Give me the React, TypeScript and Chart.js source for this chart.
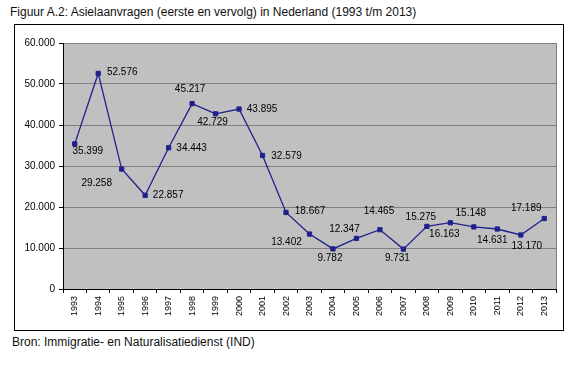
import React, { useEffect, useRef } from "react";
import { Chart, registerables } from "chart.js";

Chart.register(...registerables);

const years = ["1993","1994","1995","1996","1997","1998","1999","2000","2001","2002","2003","2004","2005","2006","2007","2008","2009","2010","2011","2012","2013"];
const requests = [35399,52576,29258,22857,34443,45217,42729,43895,32579,18667,13402,9782,12347,14465,9731,15275,16163,15148,14631,13170,17189];
const yTicks = [0,10000,20000,30000,40000,50000,60000];
// label offsets (dx, dy) in px relative to each point
const labelDx = [13,24,-25,23,23,-2,-3,23,24,24,-23,-3,-12,-1,-6,-6,-6,-3,-5,6,-18];
const labelDy = [7,-1,14,0,0,-14,8,0,1,-1,8,9,-9,-18,9,-9,12,-14,11,11,-10];

const fmt = (v: number) => {
  const s = String(v);
  if (v < 1000) return s;
  return s.slice(0, s.length - 3) + "." + s.slice(s.length - 3);
};

const FONT = "'Liberation Sans', Arial, Helvetica, sans-serif";

export default function App() {
  const ref = useRef<HTMLCanvasElement | null>(null);
  useEffect(() => {
    document.body.style.margin = "0";
    const bgPlugin = {
      id: "plotBg",
      beforeDraw(chart: any) {
        const { ctx, chartArea: a } = chart;
        ctx.save();
        ctx.fillStyle = "#c0c0c0";
        ctx.fillRect(a.left, a.top, a.right - a.left, a.bottom - a.top);
        ctx.restore();
      },
      afterDatasetsDraw(chart: any) {
        const { ctx, chartArea: a } = chart;
        ctx.save();
        ctx.strokeStyle = "#808080";
        ctx.lineWidth = 1;
        ctx.beginPath();
        ctx.moveTo(a.right + 0.5, a.top);
        ctx.lineTo(a.right + 0.5, a.bottom);
        ctx.stroke();
        ctx.restore();
        const meta = chart.getDatasetMeta(0);
        ctx.save();
        ctx.font = "10px " + FONT;
        ctx.fillStyle = "#000";
        ctx.textAlign = "center";
        ctx.textBaseline = "middle";
        meta.data.forEach((pt: any, i: number) => {
          ctx.fillText(fmt(requests[i]), pt.x + labelDx[i], pt.y + labelDy[i]);
        });
        ctx.restore();
      },
    };
    const chart = new Chart(ref.current!, {
      type: "line",
      data: {
        labels: years,
        datasets: [
          {
            data: requests,
            borderColor: "#20208c",
            backgroundColor: "#20208c",
            borderWidth: 1.3,
            pointStyle: "rect",
            pointRadius: 3,
            pointBorderWidth: 1,
            tension: 0,
          },
        ],
      },
      options: {
        animation: false,
        responsive: false,
        maintainAspectRatio: false,
        layout: { padding: { left: 0, top: 18, right: 7, bottom: 0 } },
        plugins: { legend: { display: false }, tooltip: { enabled: false }, title: { display: false } },
        scales: {
          x: {
            offset: true,
            grid: { offset: true, drawOnChartArea: false, drawTicks: true, tickLength: 4, color: "#000" },
            border: { color: "#000", width: 1 },
            ticks: { color: "#000", font: { size: 9, family: FONT }, minRotation: 90, maxRotation: 90, padding: 3, autoSkip: false },
            afterFit(s: any) { s.height = 41; },
          },
          y: {
            min: 0,
            max: 60000,
            afterBuildTicks(s: any) { s.ticks = yTicks.map((v) => ({ value: v })); },
            grid: { color: "#808080", tickLength: 4, drawTicks: true, tickColor: "#000" },
            border: { color: "#000", width: 1 },
            ticks: { color: "#000", font: { size: 10, family: FONT }, padding: 4, callback: (v: any) => fmt(Number(v)) },
            afterFit(s: any) { s.width = 48; },
          },
        },
      },
      plugins: [bgPlugin],
    });
    return () => chart.destroy();
  }, []);
  return (
    <div style={{ position: "relative", width: 581, height: 368, background: "#fff", fontFamily: FONT }}>
      <div style={{ position: "absolute", left: 10, top: 5, fontSize: 12, color: "#111", whiteSpace: "nowrap" }}>
        Figuur A.2: Asielaanvragen (eerste en vervolg) in Nederland (1993 t/m 2013)
      </div>
      <div style={{ position: "absolute", left: 14, top: 24, width: 548, height: 305, border: "1px solid #000" }}>
        <canvas ref={ref} width={548} height={305} style={{ display: "block" }} />
      </div>
      <div style={{ position: "absolute", left: 12, top: 335, fontSize: 12, color: "#111", whiteSpace: "nowrap" }}>
        Bron: Immigratie- en Naturalisatiedienst (IND)
      </div>
    </div>
  );
}
